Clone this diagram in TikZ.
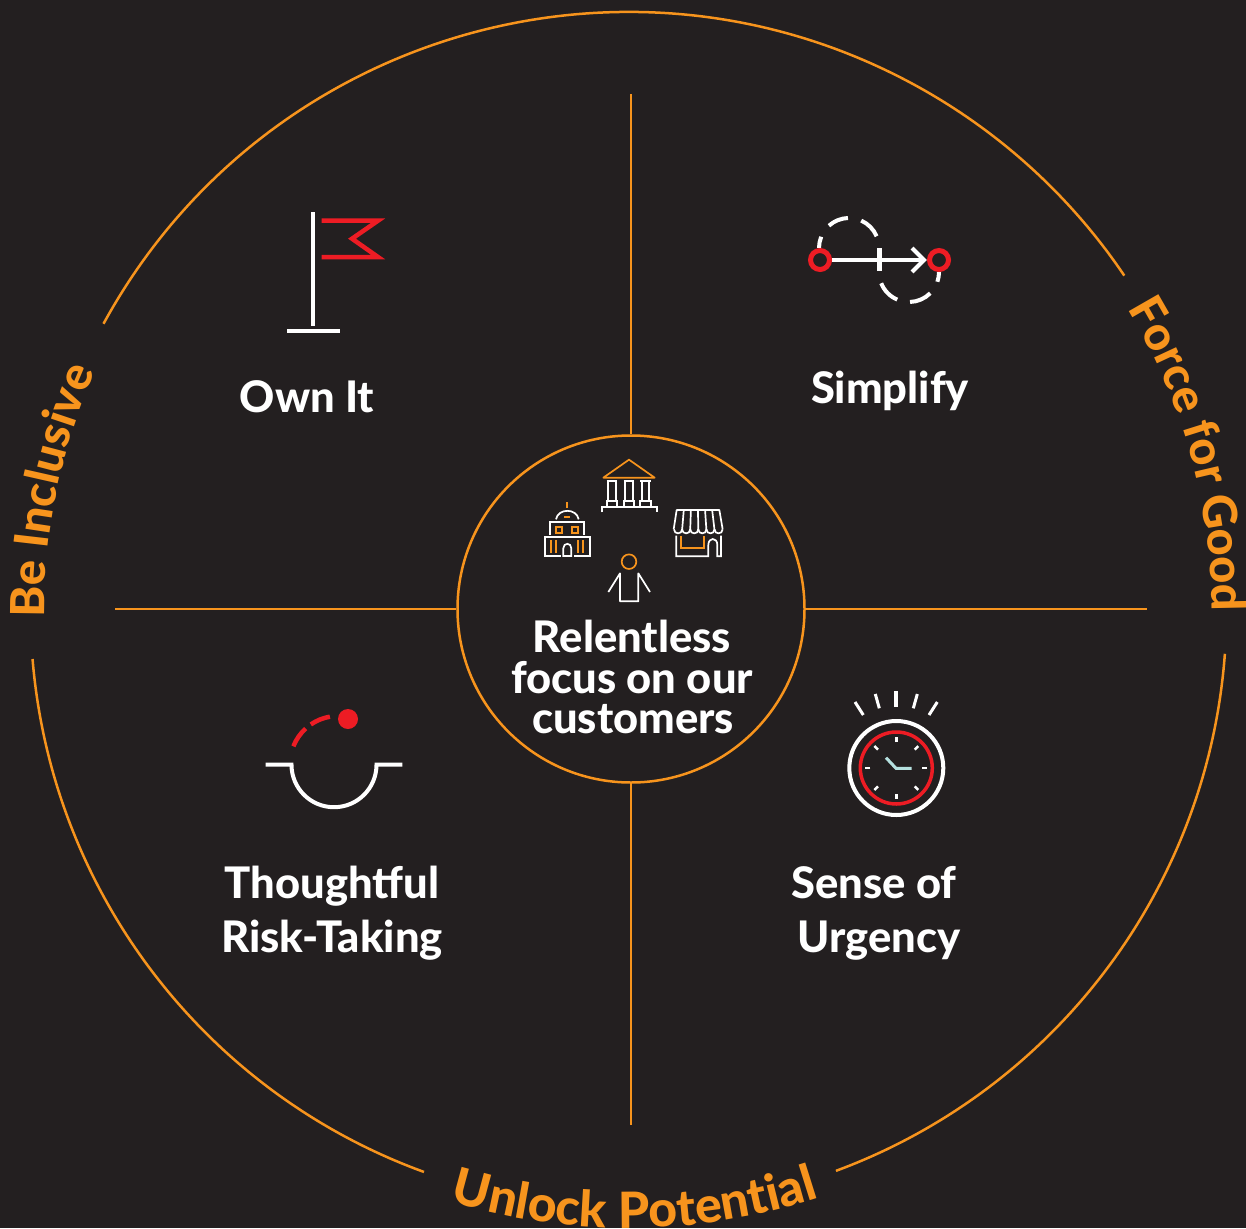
\documentclass[tikz,border=0pt]{standalone}
\usepackage{fontspec}
\setmainfont{Lato}[BoldFont=* Heavy]
\usetikzlibrary{decorations.text}
\definecolor{bgdark}{HTML}{231F20}
\definecolor{brandorange}{HTML}{F7941D}
\definecolor{brandred}{HTML}{ED1C24}
\definecolor{handblue}{HTML}{B5E0DF}
\newcommand{\valuefont}{\fontsize{43.5}{48}\selectfont\bfseries}
\newcommand{\curvefont}{\fontsize{47}{50}\selectfont\bfseries\color{brandorange}}
\newcommand{\bottomfont}{\fontsize{50}{52}\selectfont\bfseries\color{brandorange}}
\tikzset{
  x=1pt,y=1pt,
  spoke/.style={draw=brandorange,line width=2.5pt},
  rim/.style={draw=brandorange,line width=2.5pt},
  valuetext/.style={text=white,font=\valuefont,anchor=base,inner sep=0pt},
  hubtext/.style={text=white,font=\valuefont,anchor=base,inner sep=0pt},
  iconwhite/.style={draw=white,line width=4pt},
  iconred/.style={draw=brandred,line width=4.5pt},
  thinw/.style={draw=white,line width=1.7pt},
  thino/.style={draw=brandorange,line width=1.7pt},
  zoomed/.style={x=.33333pt,y=-.33333pt},
}
\begin{document}
\begin{tikzpicture}
\useasboundingbox (0,0) rectangle (1246,-1228);
\fill[bgdark] (0,0) rectangle (1246,-1228);

% outer rim arcs
\coordinate (rimc) at (628.5,-610);
\draw[rim] (rimc) ++(151.4:598pt) arc[start angle=151.4,end angle=34,radius=598pt];
\draw[rim] (rimc) ++(-4.2:598pt) arc[start angle=-4.2,end angle=-69.7,radius=598pt];
\draw[rim] (rimc) ++(-110:598pt) arc[start angle=-110,end angle=-175.3,radius=598pt];

% curved labels
\path[decorate,decoration={text along path,text align=center,text={|\curvefont|Be Inclusive}}]
  (rimc) ++(182.6:584pt) arc[start angle=182.6,end angle=154,radius=584pt];
\path[decorate,decoration={text along path,text align=center,text={|\curvefont|Force for Good}}]
  (rimc) ++(34:583pt) arc[start angle=34,end angle=-3,radius=583pt];
\path[decorate,decoration={text along path,text align=center,text={|\bottomfont|Unlock Potential}}]
  (rimc) ++(-107.4:618pt) arc[start angle=-107.4,end angle=-71.4,radius=618pt];

% hub and spokes
\node[circle,draw=brandorange,line width=2.5pt,minimum size=347pt,inner sep=0pt] (hub) at (631,-609) {};
\coordinate (topend) at (631,-94);
\coordinate (botend) at (631,-1125);
\coordinate (leftend) at (115,-609);
\coordinate (rightend) at (1147,-609);
\draw[spoke] (hub.north) -- (topend);
\draw[spoke] (hub.south) -- (botend);
\draw[spoke] (hub.west) -- (leftend);
\draw[spoke] (hub.east) -- (rightend);

% labels
\node[valuetext] (ownit) at (307,-412) {Own It};
\node[valuetext] (simplify) at (890,-403) {Simplify};
\node[valuetext] (thoughtful) at (332,-898) {Thoughtful};
\node[valuetext] (risktaking) at (332,-952) {Risk-Taking};
\node[valuetext] (senseof) at (874,-898) {Sense of};
\node[valuetext] (urgency) at (879,-952) {Urgency};
\node[hubtext] (hubone) at (632,-652) {Relentless};
\node[hubtext] (hubtwo) at (632,-693) {focus on our};
\node[hubtext] (hubthree) at (633,-733) {customers};

% flag
\draw[iconwhite] (313.3,-212) -- (313.3,-326);
\draw[draw=white,line width=4.5pt] (287,-331) -- (340,-331);
\draw[iconred,miter limit=10] (321.7,-220.7) -- (378,-220.7) -- (352,-238.7) -- (378,-257) -- (321.7,-257);

% simplify
\begin{scope}[line width=4pt,draw=white]
\draw[white] (849,-248) ++(180:30pt) arc[start angle=180,end angle=158,radius=30pt];
\draw[white] (849,-248) ++(132:30pt) arc[start angle=132,end angle=92,radius=30pt];
\draw[white] (849,-248) ++(66:30pt) arc[start angle=66,end angle=23,radius=30pt];
\draw[white] (909,-272) ++(0:30pt) arc[start angle=0,end angle=-19,radius=30pt];
\draw[white] (909,-272) ++(-45:30pt) arc[start angle=-45,end angle=-88,radius=30pt];
\draw[white] (909,-272) ++(-113:30pt) arc[start angle=-113,end angle=-158,radius=30pt];
\draw[white] (832,-260) -- (924,-260);
\draw[white] (912,-248) -- (924,-260) -- (912,-272);
\draw[white,line width=5pt] (879,-248) -- (879,-271);
\end{scope}
\draw[brandred,line width=5pt] (820,-260) circle[radius=9.5pt];
\draw[brandred,line width=5pt] (939,-260) circle[radius=9.5pt];

% thoughtful risk icon
\draw[iconwhite] (265.7,-764.7) -- (291.5,-764.7) arc[start angle=180,end angle=360,radius=42.5pt] -- (402.3,-764.7);
\fill[brandred] (348,-719) circle[radius=10pt];
\draw[iconred] (338,-764) ++(158.4:48pt) arc[start angle=158.4,end angle=132.3,radius=48pt];
\draw[iconred] (338,-764) ++(124.5:48pt) arc[start angle=124.5,end angle=99.7,radius=48pt];

% stopwatch
\draw[white,line width=4pt] (896.3,-768) circle[radius=47pt];
\draw[brandred,line width=3.5pt] (896.3,-768) circle[radius=36pt];
\foreach \a in {0,45,...,315}{
  \draw[white,line width=2.5pt] (896.3,-768) ++(\a:26pt) -- ++(\a:5pt);
}
\draw[handblue,line width=3pt] (886,-757.7) -- (896,-768.3) -- (911.7,-768.3);
\draw[white,line width=4pt] (896,-691) -- (896,-706.7);
\draw[white,line width=3pt] (875.3,-694) -- (879.3,-708.3);
\draw[white,line width=3pt] (917.3,-694) -- (913.3,-708.3);
\draw[white,line width=3pt] (855,-702) -- (863.3,-715);
\draw[white,line width=3pt] (937.3,-702) -- (929,-715);

% centre icons (drawn in 3x crop coordinates)
\begin{scope}[shift={(520,-440)},zoomed]
% temple
\draw[thino,line join=round] (250,113) -- (327,59) -- (404,113) -- cycle;
\foreach \c in {276,327,377}{
  \draw[thinw] (\c-16,122) -- (\c+16,122);
  \draw[thinw] (\c-11,122) -- (\c-11,183);
  \draw[thinw] (\c+11,122) -- (\c+11,183);
  \draw[thinw] (\c-16,199) -- (\c-16,183) -- (\c+16,183) -- (\c+16,199);
}
\draw[thinw] (245,217) -- (245,200) -- (410,200) -- (410,217);
% capitol
\draw[thino] (141,187) -- (141,205);
\draw[thinw] (108,238) .. controls (114,204) and (170,204) .. (176,238);
\draw[thino] (133,231) -- (150,231);
\draw[thinw] (91,285) -- (91,245) -- (193,245) -- (193,285);
\draw[thino] (109,262) rectangle (127,280);
\draw[thino] (157,262) rectangle (175,280);
\draw[thinw] (122,348) -- (74,348) -- (74,292) -- (210,292) -- (210,348) -- (162,348);
\draw[thinw] (130,348) -- (130,325) .. controls (130,307) and (154,307) .. (154,325) -- (154,348) -- cycle;
\foreach \x in {92,107,175,190}{\draw[thino] (\x,300) -- (\x,340);}
% shop
\draw[thinw,line join=round] (461,268) -- (470,210) -- (598,210) -- (608,268);
\foreach \i in {1,...,5}{
  \draw[thinw] ({470+21.3*\i},210) -- ({462+24.3*\i},270);
}
\foreach \i in {0,...,5}{
  \draw[thinw] ({462+24.3*\i},268) .. controls ({462+24.3*\i},284) and ({462+24.3*(\i+1)},284) .. ({462+24.3*(\i+1)},268);
}
\draw[thinw] (469,287) -- (469,349) -- (565,349) -- (565,315) .. controls (565,291) and (592,291) .. (592,315) -- (592,349) -- (603,349) -- (603,287);
\draw[thino] (482,287) -- (482,325) -- (552,325) -- (552,287);
% person
\draw[thino] (327,365) circle[radius=7.3pt];
\draw[thinw,line join=round] (265,456) -- (300,400) -- (300,484) -- (355,484) -- (355,400) -- (390,456);
\end{scope}
\end{tikzpicture}
\end{document}
